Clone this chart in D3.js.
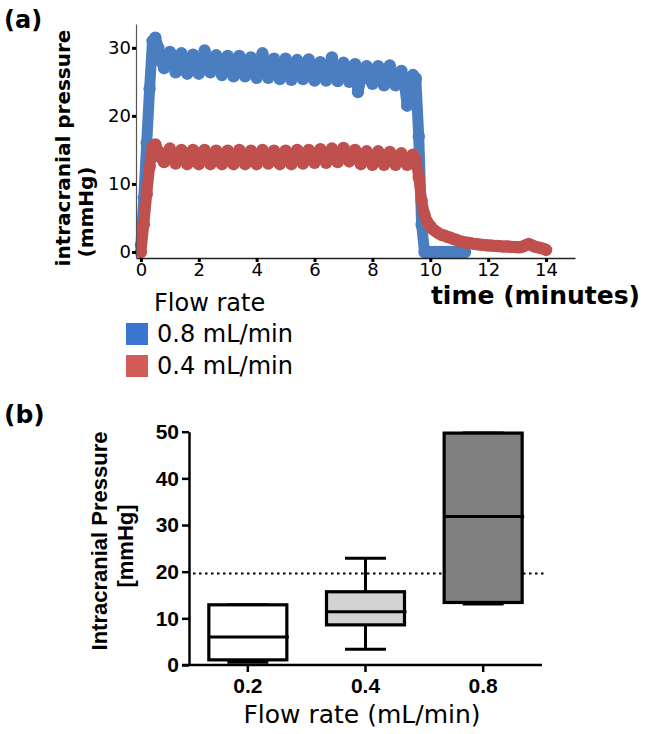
<html lang="en">
<head>
<meta charset="UTF-8">
<title>Intracranial pressure</title>
<style>
  body { margin: 0; background: #fff; }
  svg { display: block; }
  text { fill: #000; }
</style>
</head>
<body>
<svg width="645" height="734"></svg>
<script src="https://d3js.org/d3.v7.min.js"></script>
<script>
// ---- panel (a) data: pressure traces (mmHg) sampled every 0.1 min ----
var minutes = [
  0.0, 0.1, 0.2, 0.3, 0.4, 0.5, 0.6, 0.7, 0.8, 0.9,
  1.0, 1.1, 1.2, 1.3, 1.4, 1.5, 1.6, 1.7, 1.8, 1.9,
  2.0, 2.1, 2.2, 2.3, 2.4, 2.5, 2.6, 2.7, 2.8, 2.9,
  3.0, 3.1, 3.2, 3.3, 3.4, 3.5, 3.6, 3.7, 3.8, 3.9,
  4.0, 4.1, 4.2, 4.3, 4.4, 4.5, 4.6, 4.7, 4.8, 4.9,
  5.0, 5.1, 5.2, 5.3, 5.4, 5.5, 5.6, 5.7, 5.8, 5.9,
  6.0, 6.1, 6.2, 6.3, 6.4, 6.5, 6.6, 6.7, 6.8, 6.9,
  7.0, 7.1, 7.2, 7.3, 7.4, 7.5, 7.6, 7.7, 7.8, 7.9,
  8.0, 8.1, 8.2, 8.3, 8.4, 8.5, 8.6, 8.7, 8.8, 8.9,
  9.0, 9.1, 9.2, 9.3, 9.4, 9.5, 9.6, 9.7, 9.8, 9.9,
  10.0, 10.1, 10.2, 10.3, 10.4, 10.5, 10.6, 10.7, 10.8, 10.9,
  11.0, 11.1, 11.2, 11.3, 11.4, 11.5, 11.6, 11.7, 11.8, 11.9,
  12.0, 12.1, 12.2, 12.3, 12.4, 12.5, 12.6, 12.7, 12.8, 12.9,
  13.0, 13.1, 13.2, 13.3, 13.4, 13.5, 13.6, 13.7, 13.8, 13.9,
  14.0
];
var pressure08 = [
  1, 8, 16, 24, 31, 31.5, 30, 28, 27, 28.8,
  29.4, 27.8, 26.4, 27.8, 29.2, 27.6, 26.2, 27.6, 29, 27.8,
  26.2, 27.8, 29.6, 28.4, 26.4, 27.4, 28.9, 27.6, 26, 27.6,
  28.8, 27.2, 25.8, 27.4, 28.8, 27.2, 25.8, 27.4, 28.6, 27,
  25.6, 27.6, 29.2, 27.4, 25.6, 26.8, 28.4, 26.8, 25.4, 27,
  28.4, 26.6, 25.3, 26.9, 28.2, 26.6, 25.4, 27.1, 28.3, 26.4,
  25.2, 26.8, 27.9, 26.3, 25.2, 27.2, 28.6, 26.6, 25.1, 27,
  27.8, 26, 25, 26.6, 27.6, 23.5, 25.3, 26.6, 27.3, 25.6,
  24.7, 26.3, 27.3, 25.5, 24.5, 26, 27.4, 25.6, 24.5, 25.8,
  26.6, 25, 21.5, 24.8, 26, 25.5, 17, 4, 0, 0,
  0, 0, 0, 0, 0, 0, 0, 0, 0, 0,
  0, 0, 0, null, null, null, null, null, null, null,
  null, null, null, null, null, null, null, null, null, null,
  null, null, null, null, null, null, null, null, null, null,
  null
];
var pressure04 = [
  0, 4, 8.5, 12.5, 15.4, 15.8, 14.8, 13.8, 13.2, 14.6,
  15.2, 14, 13, 14.2, 15, 13.8, 12.9, 14.1, 15, 13.8,
  12.9, 14, 15, 13.7, 12.9, 14, 14.9, 13.8, 12.9, 14,
  14.9, 13.7, 12.9, 14.1, 15, 13.7, 12.9, 14, 14.9, 13.6,
  12.9, 14, 15, 13.8, 13, 14.1, 14.9, 13.8, 12.9, 14,
  14.9, 13.7, 12.9, 14, 15, 13.8, 13, 14.1, 15, 13.9,
  13.1, 14.2, 15.1, 14, 13.1, 14.2, 15.2, 14.1, 13.2, 14.4,
  15.3, 14.2, 13.3, 14.3, 15, 13.8, 12.9, 14, 14.8, 13.6,
  12.8, 13.8, 14.8, 13.6, 12.8, 13.8, 14.7, 13.6, 12.8, 13.8,
  14.5, 13.4, 12.8, 13.7, 14.3, 13.6, 11, 7.5, 5.5, 4.4,
  3.8, 3.3, 3.0, 2.7, 2.5, 2.4, 2.2, 2.1, 1.9, 1.8,
  1.6, 1.5, 1.4, 1.35, 1.3, 1.2, 1.15, 1.1, 1.05, 1.0,
  0.95, 0.95, 0.9, 0.9, 0.85, 0.8, 0.8, 0.8, 0.75, 0.75,
  0.7, 0.7, 0.8, 1.0, 1.2, 1.0, 0.8, 0.7, 0.6, 0.5,
  0.3
];
var timeTicks = [0, 2, 4, 6, 8, 10, 12, 14];
var pressureTicksA = [0, 10, 20, 30];
var legendLabels = ["0.8 mL/min", "0.4 mL/min"];

// ---- panel (b) data: box plots ----
var flowRates = ["0.2", "0.4", "0.8"];
var boxMin = [0.6, 3.4, 13.1];
var boxQ1 = [1.1, 8.6, 13.4];
var boxMedian = [6.0, 11.4, 31.8];
var boxQ3 = [12.9, 15.7, 49.7];
var boxMax = [12.9, 22.9, 49.7];
var pressureTicksB = [0, 10, 20, 30, 40, 50];
var thresholdPressure = 19.6;

(function() {
  'use strict';

  var svg = d3.select("svg");
  var SANS = "'DejaVu Sans', Verdana, sans-serif";
  var ARIAL = "'Liberation Sans', Arial, sans-serif";
  var BLUE = "#4a7ec0", RED = "#c0504d";

  // ================= panel (a) =================
  var xA = d3.scaleLinear().domain([-0.17, 15]).range([136, 575]);
  var yA = d3.scaleLinear().domain([-0.88, 33.5]).range([258, 24]);

  svg.append("text").attr("x", 4).attr("y", 28)
    .style("font-family", SANS).style("font-weight", "bold").style("font-size", "24px")
    .text("(a)");

  var gA = svg.append("g");

  function drawSeries(values, color) {
    var pts = minutes.map(function(t, i) { return [t, values[i]]; })
      .filter(function(d) { return d[1] != null; });
    gA.append("path")
      .datum(pts)
      .attr("fill", "none")
      .attr("stroke", color)
      .attr("stroke-width", 11)
      .attr("stroke-linejoin", "round")
      .attr("stroke-linecap", "round")
      .attr("d", d3.line().x(function(d) { return xA(d[0]); }).y(function(d) { return yA(d[1]); }));
    gA.selectAll(null)
      .data(pts)
      .enter()
      .append("circle")
      .attr("cx", function(d) { return xA(d[0]); })
      .attr("cy", function(d) { return yA(d[1]); })
      .attr("r", 6.2)
      .attr("fill", color);
  }
  drawSeries(pressure08, BLUE);
  drawSeries(pressure04, RED);

  // axes
  var axA = svg.append("g").attr("transform", "translate(0," + yA(-0.88) + ")")
    .call(d3.axisBottom(xA).tickValues(timeTicks).tickSize(4).tickPadding(1).tickSizeOuter(0));
  axA.select(".domain").attr("stroke", "#222").attr("stroke-width", 1.6);
  axA.selectAll(".tick line").attr("stroke", "#000").attr("stroke-width", 3);
  axA.selectAll(".tick text").style("font-family", SANS).style("font-size", "18px").attr("fill", "#111");

  var ayA = svg.append("g").attr("transform", "translate(" + xA(-0.17) + ",0)")
    .call(d3.axisLeft(yA).tickValues(pressureTicksA).tickSize(4).tickPadding(1).tickSizeOuter(0));
  ayA.select(".domain").attr("stroke", "#555").attr("stroke-width", 1.2);
  ayA.selectAll(".tick line").attr("stroke", "#000").attr("stroke-width", 3);
  ayA.selectAll(".tick text").style("font-family", SANS).style("font-size", "18px").attr("fill", "#111");

  svg.append("text")
    .attr("transform", "translate(70,148) rotate(-90)")
    .attr("text-anchor", "middle")
    .style("font-family", SANS).style("font-weight", "bold").style("font-size", "20px")
    .text("intracranial pressure");
  svg.append("text")
    .attr("transform", "translate(93,212) rotate(-90)")
    .attr("text-anchor", "middle")
    .style("font-family", SANS).style("font-weight", "bold").style("font-size", "20px")
    .text("(mmHg)");

  svg.append("text").attr("x", 640).attr("y", 304).attr("text-anchor", "end")
    .style("font-family", SANS).style("font-weight", "bold").style("font-size", "25px")
    .text("time (minutes)");

  // legend
  svg.append("text").attr("x", 154).attr("y", 311)
    .style("font-family", SANS).style("font-size", "24px").attr("fill", "#111")
    .text("Flow rate");
  var legColors = ["#3a75cf", "#d35c5a"];
  legendLabels.forEach(function(lab, i) {
    svg.append("rect").attr("x", 126).attr("y", 323 + i * 32).attr("width", 22).attr("height", 22)
      .attr("fill", legColors[i]);
    svg.append("text").attr("x", 157).attr("y", 342 + i * 32)
      .style("font-family", SANS).style("font-size", "24px").attr("fill", "#111")
      .text(lab);
  });

  // ================= panel (b) =================
  var xB = d3.scaleBand().domain(flowRates).range([189, 542]);
  var yB = d3.scaleLinear().domain([0, 50]).range([665, 431.7]);
  var BOXW = 78, CAPW = 41;
  var boxFills = ["#ffffff", "#d3d3d3", "#808080"];

  svg.append("text").attr("x", 4).attr("y", 423)
    .style("font-family", SANS).style("font-weight", "bold").style("font-size", "25px")
    .text("(b)");

  var ayB = svg.append("g").attr("transform", "translate(189,0)")
    .call(d3.axisLeft(yB).tickValues(pressureTicksB).tickSize(7).tickPadding(3).tickSizeOuter(0));
  ayB.select(".domain").attr("stroke", "#000").attr("stroke-width", 2.5);
  ayB.selectAll(".tick line").attr("stroke", "#000").attr("stroke-width", 2.5);
  ayB.selectAll(".tick text").style("font-family", ARIAL).style("font-weight", "bold")
    .style("font-size", "21px").attr("fill", "#111");

  var axB = svg.append("g").attr("transform", "translate(0," + yB(0) + ")")
    .call(d3.axisBottom(xB).tickSize(7).tickPadding(6).tickSizeOuter(0));
  axB.select(".domain").attr("d", "M182,0H542").attr("stroke", "#000").attr("stroke-width", 2.5);
  axB.selectAll(".tick line").attr("stroke", "#000").attr("stroke-width", 2.5);
  axB.selectAll(".tick text").style("font-family", ARIAL).style("font-weight", "bold")
    .style("font-size", "21px").attr("fill", "#111");

  // threshold
  svg.append("line")
    .attr("x1", 193).attr("x2", 544)
    .attr("y1", yB(thresholdPressure)).attr("y2", yB(thresholdPressure))
    .attr("stroke", "#000").attr("stroke-width", 2).attr("stroke-dasharray", "2.5,3.5");

  var boxes = svg.append("g").selectAll("g")
    .data(flowRates)
    .enter()
    .append("g")
    .attr("transform", function(d) { return "translate(" + (xB(d) + xB.bandwidth() / 2) + ",0)"; });

  boxes.each(function(d, i) {
    var g = d3.select(this);
    // whiskers
    g.append("line").attr("x1", 0).attr("x2", 0).attr("y1", yB(boxMax[i])).attr("y2", yB(boxQ3[i]))
      .attr("stroke", "#000").attr("stroke-width", 3);
    g.append("line").attr("x1", 0).attr("x2", 0).attr("y1", yB(boxQ1[i])).attr("y2", yB(boxMin[i]))
      .attr("stroke", "#000").attr("stroke-width", 3);
    [boxMax[i], boxMin[i]].forEach(function(v) {
      g.append("line").attr("x1", -CAPW / 2).attr("x2", CAPW / 2).attr("y1", yB(v)).attr("y2", yB(v))
        .attr("stroke", "#000").attr("stroke-width", 3);
    });
    g.append("rect")
      .attr("x", -BOXW / 2).attr("width", BOXW)
      .attr("y", yB(boxQ3[i])).attr("height", yB(boxQ1[i]) - yB(boxQ3[i]))
      .attr("fill", boxFills[i]).attr("stroke", "#000").attr("stroke-width", 3.2);
    g.append("line").attr("x1", -BOXW / 2).attr("x2", BOXW / 2 + 2)
      .attr("y1", yB(boxMedian[i])).attr("y2", yB(boxMedian[i]))
      .attr("stroke", "#000").attr("stroke-width", 3);
  });

  svg.append("text")
    .attr("transform", "translate(107,541) rotate(-90)")
    .attr("text-anchor", "middle")
    .style("font-family", ARIAL).style("font-weight", "bold").style("font-size", "22px").attr("fill", "#111")
    .text("Intracranial Pressure");
  svg.append("text")
    .attr("transform", "translate(133,546) rotate(-90)")
    .attr("text-anchor", "middle")
    .style("font-family", ARIAL).style("font-weight", "bold").style("font-size", "22px").attr("fill", "#111")
    .text("[mmHg]");

  svg.append("text").attr("x", 362).attr("y", 723).attr("text-anchor", "middle")
    .style("font-family", SANS).style("font-size", "25px").attr("fill", "#111")
    .text("Flow rate (mL/min)");
})();
</script>
</body>
</html>
